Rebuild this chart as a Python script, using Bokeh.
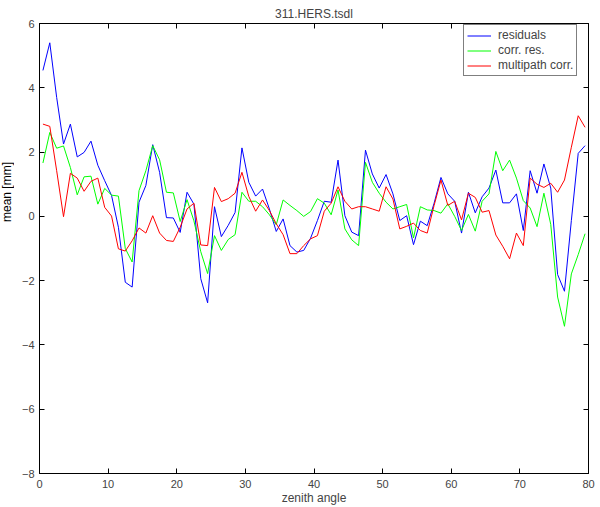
import math
from bokeh.plotting import figure
from bokeh.layouts import row
from bokeh.models import (LinearAxis, FixedTicker, Range1d, Legend, LegendItem,
                          ColumnDataSource, CustomJSTickFormatter)
from bokeh.core.properties import value
from bokeh.embed import file_html
from bokeh.resources import INLINE

# zenith angle sample positions (one per degree bin)
zenith = [i + 0.5 for i in range(80)]

residuals = [4.54, 5.40, 3.70, 2.25, 2.87, 1.85, 1.99, 2.34, 1.59, 1.11,
             0.65, -0.34, -2.05, -2.20, 0.44, 0.96, 2.23, 1.37, -0.04, -0.05,
             -0.50, 0.75, 0.38, -1.94, -2.69, 0.30, -0.63, -0.28, 0.12, 2.13,
             1.06, 0.63, 0.85, 0.23, -0.47, -0.08, -0.91, -1.11, -1.06, -0.68,
             -0.13, 0.47, 0.44, 1.75, 0.02, -0.49, -0.60, 2.06, 1.32, 0.88,
             1.30, 0.70, -0.13, 0.02, -0.88, -0.15, -0.29, 0.41, 1.21, 0.70,
             0.47, -0.52, 0.75, 0.11, 0.61, 0.88, 1.44, 0.42, 0.42, 0.70,
             -0.44, 1.42, 0.72, 1.63, 0.88, -1.81, -2.33, -0.13, 1.96, 2.20]

corr_res = [1.66, 2.61, 2.12, 2.19, 1.52, 0.67, 1.23, 1.25, 0.38, 0.87,
            0.66, 0.63, -1.00, -1.42, 0.80, 1.42, 2.20, 1.76, 0.75, 0.73,
            -0.16, 0.52, -0.14, -1.10, -1.78, -0.60, -1.06, -0.72, -0.57, 0.75,
            0.47, 0.47, 0.30, 0.05, -0.26, 0.51, 0.34, 0.18, 0.00, 0.15,
            0.55, 0.41, 0.05, 0.82, -0.39, -0.73, -0.91, 1.68, 1.06, 0.72,
            0.44, 0.23, 0.30, 0.37, -0.67, 0.30, 0.20, 0.18, 0.10, 0.39,
            0.00, -0.44, 0.06, -0.46, 0.47, 0.70, 2.02, 1.42, 1.75, 1.19,
            0.49, 0.26, -0.32, 0.72, -0.25, -2.51, -3.42, -1.79, -1.19, -0.54]

multipath_corr = [2.87, 2.80, 1.42, -0.01, 1.34, 1.19, 0.78, 1.09, 1.19, 0.28,
                  0.01, -1.01, -1.08, -0.76, -0.36, -0.52, 0.02, -0.52, -0.75, -0.78,
                  -0.34, 0.23, 0.41, -0.89, -0.91, 0.90, 0.46, 0.55, 0.72, 1.37,
                  0.62, 0.16, 0.51, 0.18, -0.23, -0.57, -1.16, -1.16, -0.91, -0.70,
                  -0.60, 0.16, 0.41, 0.92, 0.47, 0.23, 0.30, 0.30, 0.23, 0.16,
                  0.92, 0.54, -0.39, -0.31, -0.21, -0.44, -0.52, 0.34, 1.13, 0.34,
                  0.47, -0.11, 0.72, 0.59, 0.13, 0.18, -0.58, -0.93, -1.32, -0.52,
                  -0.91, 1.19, 1.00, 0.90, 1.03, 0.75, 1.13, 2.15, 3.13, 2.77]

x_ticks = [0, 10, 20, 30, 40, 50, 60, 70, 80]
y_ticks = [-8, -6, -4, -2, 0, 2, 4, 6]

title_text = "311.HERS.tsdl"
x_label_text = "zenith angle"
y_label_text = "mean  [mm]"
series_names = ["residuals", "corr. res.", "multipath corr."]

FONT = "Liberation Sans"
LABEL_W = 14
TOTAL_W, TOTAL_H = 600, 507

# ---- narrow strip holding the y-axis label (placed like the original, above centre)
lab = figure(width=LABEL_W, height=TOTAL_H, output_backend="svg", toolbar_location=None,
             x_range=Range1d(0, LABEL_W), y_range=Range1d(0, TOTAL_H),
             x_axis_type=None, y_axis_type=None,
             min_border=0, min_border_left=0, min_border_right=0,
             min_border_top=0, min_border_bottom=0)
lab.outline_line_color = None
lab.background_fill_color = "white"
lab.border_fill_color = "white"
lab.text(x=[6], y=[TOTAL_H - 188], text=[y_label_text], angle=math.pi / 2,
         text_align="center", text_baseline="middle",
         text_font=value(FONT), text_font_size="12px", text_color="black")

# ---- main plot
p = figure(width=TOTAL_W - LABEL_W, height=TOTAL_H, output_backend="svg",
           toolbar_location=None,
           x_range=Range1d(0, 80), y_range=Range1d(-8, 6),
           min_border_left=25, min_border_right=12, min_border_top=23,
           min_border_bottom=34)

p.background_fill_color = "white"
p.border_fill_color = "white"
p.outline_line_color = "black"
p.outline_line_width = 1
p.xgrid.visible = False
p.ygrid.visible = False

p.title.text = title_text
p.title.align = "center"
p.title.text_font = FONT
p.title.text_font_size = "12px"
p.title.text_font_style = "normal"
p.title.standoff = 5
p.title.offset = 0

src = ColumnDataSource(dict(x=zenith, r=residuals, c=corr_res, m=multipath_corr))
r1 = p.line("x", "r", source=src, line_color="#0000ff", line_width=1)
r2 = p.line("x", "c", source=src, line_color="#00ff00", line_width=1)
r3 = p.line("x", "m", source=src, line_color="#ff0000", line_width=1)


def style_axis(ax, labels=True):
    ax.axis_line_color = "black"
    ax.major_tick_line_color = "black"
    ax.major_tick_in = 5
    ax.major_tick_out = 0
    ax.minor_tick_line_color = None
    ax.major_label_text_font = FONT
    if labels:
        ax.major_label_text_font_size = "11px"
        ax.major_label_standoff = 6
    else:
        ax.major_label_text_font_size = "0px"
        ax.major_label_text_color = None
        ax.major_label_standoff = 0
        ax.formatter = CustomJSTickFormatter(code="return ''")
    ax.axis_label_text_font = FONT
    ax.axis_label_text_font_size = "12px"
    ax.axis_label_text_font_style = "normal"
    ax.axis_label_standoff = 0


xa = p.xaxis[0]
xa.ticker = FixedTicker(ticks=x_ticks)
xa.axis_label = x_label_text
style_axis(xa)

ya = p.yaxis[0]
ya.ticker = FixedTicker(ticks=y_ticks)
style_axis(ya)
ya.major_label_standoff = 5

top = LinearAxis(ticker=FixedTicker(ticks=x_ticks))
style_axis(top, labels=False)
p.add_layout(top, "above")
right = LinearAxis(ticker=FixedTicker(ticks=y_ticks))
style_axis(right, labels=False)
p.add_layout(right, "right")

legend = Legend(items=[LegendItem(label=series_names[0], renderers=[r1]),
                       LegendItem(label=series_names[1], renderers=[r2]),
                       LegendItem(label=series_names[2], renderers=[r3])],
                location=(424, 397))
legend.margin = 0
legend.padding = 3
legend.spacing = 1
legend.glyph_width = 24
legend.glyph_height = 13
legend.label_height = 13
legend.label_standoff = 7
legend.label_text_font = FONT
legend.label_text_font_size = "12px"
legend.border_line_color = "black"
legend.border_line_width = 1
legend.background_fill_color = "white"
legend.background_fill_alpha = 1
p.add_layout(legend)

layout = row(lab, p, spacing=0)
open("out.html", "w").write(file_html(layout, INLINE))
